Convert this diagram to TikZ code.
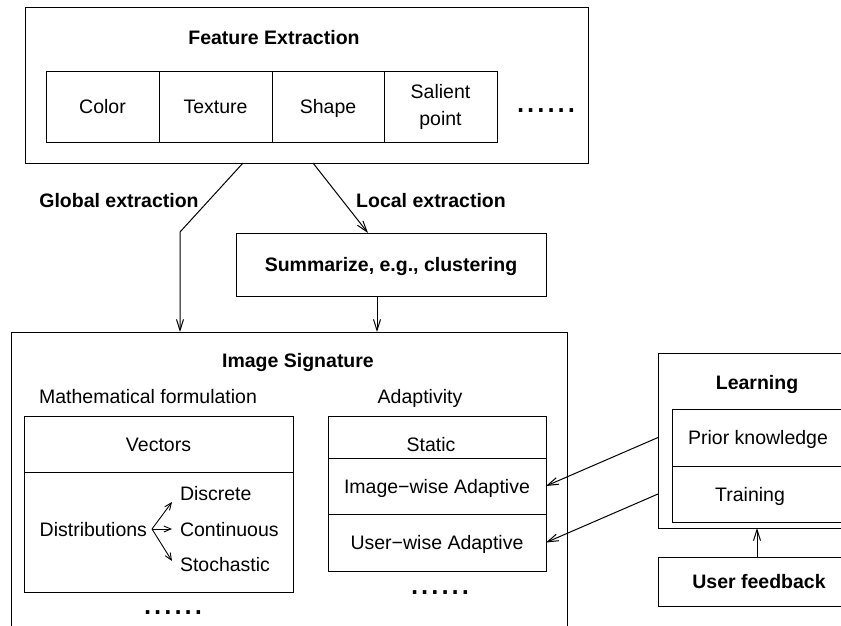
\documentclass[tikz,border=0pt]{standalone}
\usepackage{fontspec}
\setmainfont{Liberation Sans}
\usetikzlibrary{arrows.meta}
\begin{document}
\begin{tikzpicture}[x=1pt,y=-1pt,
  every node/.style={font=\fontsize{19.5pt}{23pt}\selectfont, inner sep=0pt, outer sep=0pt},
  bx/.style={draw, line width=1pt, anchor=north west, inner sep=0pt},
  lbl/.style={text height=14pt, text depth=0pt},
  bold/.style={font=\fontsize{19.5pt}{23pt}\selectfont\bfseries},
  dotsrow/.style={font=\fontsize{36.5pt}{37pt}\selectfont},
  arr/.style={-{Straight Barb[length=11pt,width=7pt]}, line width=1pt},
  sarr/.style={-{Straight Barb[length=7pt,width=6pt]}, line width=0.9pt}]
\useasboundingbox (0,0) rectangle (841,625);
\clip (0,0) rectangle (841,625);

% Feature extraction
\node[bx, minimum width=563pt, minimum height=156pt] (fe) at (25,7) {};
\node[bold, lbl] (fetitle) at (274,37) {Feature Extraction};
\node[bx, lbl, minimum width=113pt, minimum height=71pt] (color) at (46,71) {Color};
\node[bx, lbl, minimum width=113pt, minimum height=71pt] (texture) at (159,71) {Texture};
\node[bx, lbl, minimum width=112pt, minimum height=71pt] (shape) at (272,71) {Shape};
\node[bx, minimum width=113pt, minimum height=71pt, align=center,
      font=\fontsize{19.5pt}{27pt}\selectfont] (salient) at (384,71) {Salient\\point};
\node[dotsrow] (fedots) at (546,111) {......};

% extraction labels
\node[bold, lbl] (glabel) at (119,200) {Global extraction};
\node[bold, lbl] (llabel) at (431,200) {Local extraction};

% Summarize
\node[bx, bold, lbl, minimum width=310pt, minimum height=63pt] (sum) at (236,233) {Summarize, e.g., clustering};

% Image signature
\node[bx, minimum width=556pt, minimum height=320pt] (sig) at (11,332) {};
\node[bold, lbl] (sigtitle) at (298,360) {Image Signature};
\node[lbl] (math) at (148,396) {Mathematical formulation};
\node[lbl] (adapt) at (420,396) {Adaptivity};

\node[bx, lbl, minimum width=269pt, minimum height=56pt] (vec) at (24,416) {Vectors};
\node[bx, minimum width=269pt, minimum height=120pt] (distcell) at (24,472) {};
\node[lbl, anchor=east] (dist) at (147,529) {Distributions};
\node[lbl, anchor=west] (discrete) at (180,493) {Discrete};
\node[lbl, anchor=west] (cont) at (180,529) {Continuous};
\node[lbl, anchor=west] (stoch) at (180,564) {Stochastic};
\coordinate (dorig) at (152,529);
\coordinate (t1) at (172,502);
\coordinate (t2) at (172,529);
\coordinate (t3) at (172,561);
\draw[sarr] (dorig) -- (t1);
\draw[sarr] (dorig) -- (t2);
\draw[sarr] (dorig) -- (t3);
\node[dotsrow] (mdots) at (173,613) {......};

\node[bx, minimum width=218pt, minimum height=42pt] (static) at (328,416) {};
\node[lbl] (statictxt) at (431,444) {Static};
\node[bx, lbl, minimum width=218pt, minimum height=56pt] (imgwise) at (328,458) {Image−wise Adaptive};
\node[bx, lbl, minimum width=218pt, minimum height=57pt] (userwise) at (328,514) {User−wise Adaptive};
\node[dotsrow] (adots) at (440,593) {......};

% Learning
\node[bx, minimum width=202pt, minimum height=175pt] (learn) at (658,353) {};
\node[bold, lbl] (learntitle) at (757,382) {Learning};
\node[bx, lbl, minimum width=172pt, minimum height=57pt] (prior) at (672,409) {Prior knowledge};
\node[bx, minimum width=172pt, minimum height=56pt] (training) at (672,466) {};
\node[lbl] (traintxt) at (750,494) {Training};
\node[bx, bold, lbl, minimum width=202pt, minimum height=49pt] (uf) at (658,557) {User feedback};

% connectors
\coordinate (gx) at (243,0);
\coordinate (gbend) at (180,232);
\coordinate (lx) at (313,0);
\coordinate (ltip) at (368,0);
\coordinate (sx) at (377,0);
\coordinate (ux) at (757,0);
\draw[arr] (fe.south -| gx) -- (gbend) -- (gbend |- sig.north);
\draw[arr] (fe.south -| lx) -- (sum.north -| ltip);
\draw[arr] (sum.south -| sx) -- (sig.north -| sx);
\draw[arr] (prior.west -| learn.west) -- (imgwise.east);
\draw[arr] (traintxt.center -| learn.west) -- (userwise.east);
\draw[arr] (uf.north -| ux) -- (learn.south -| ux);
\end{tikzpicture}
\end{document}
